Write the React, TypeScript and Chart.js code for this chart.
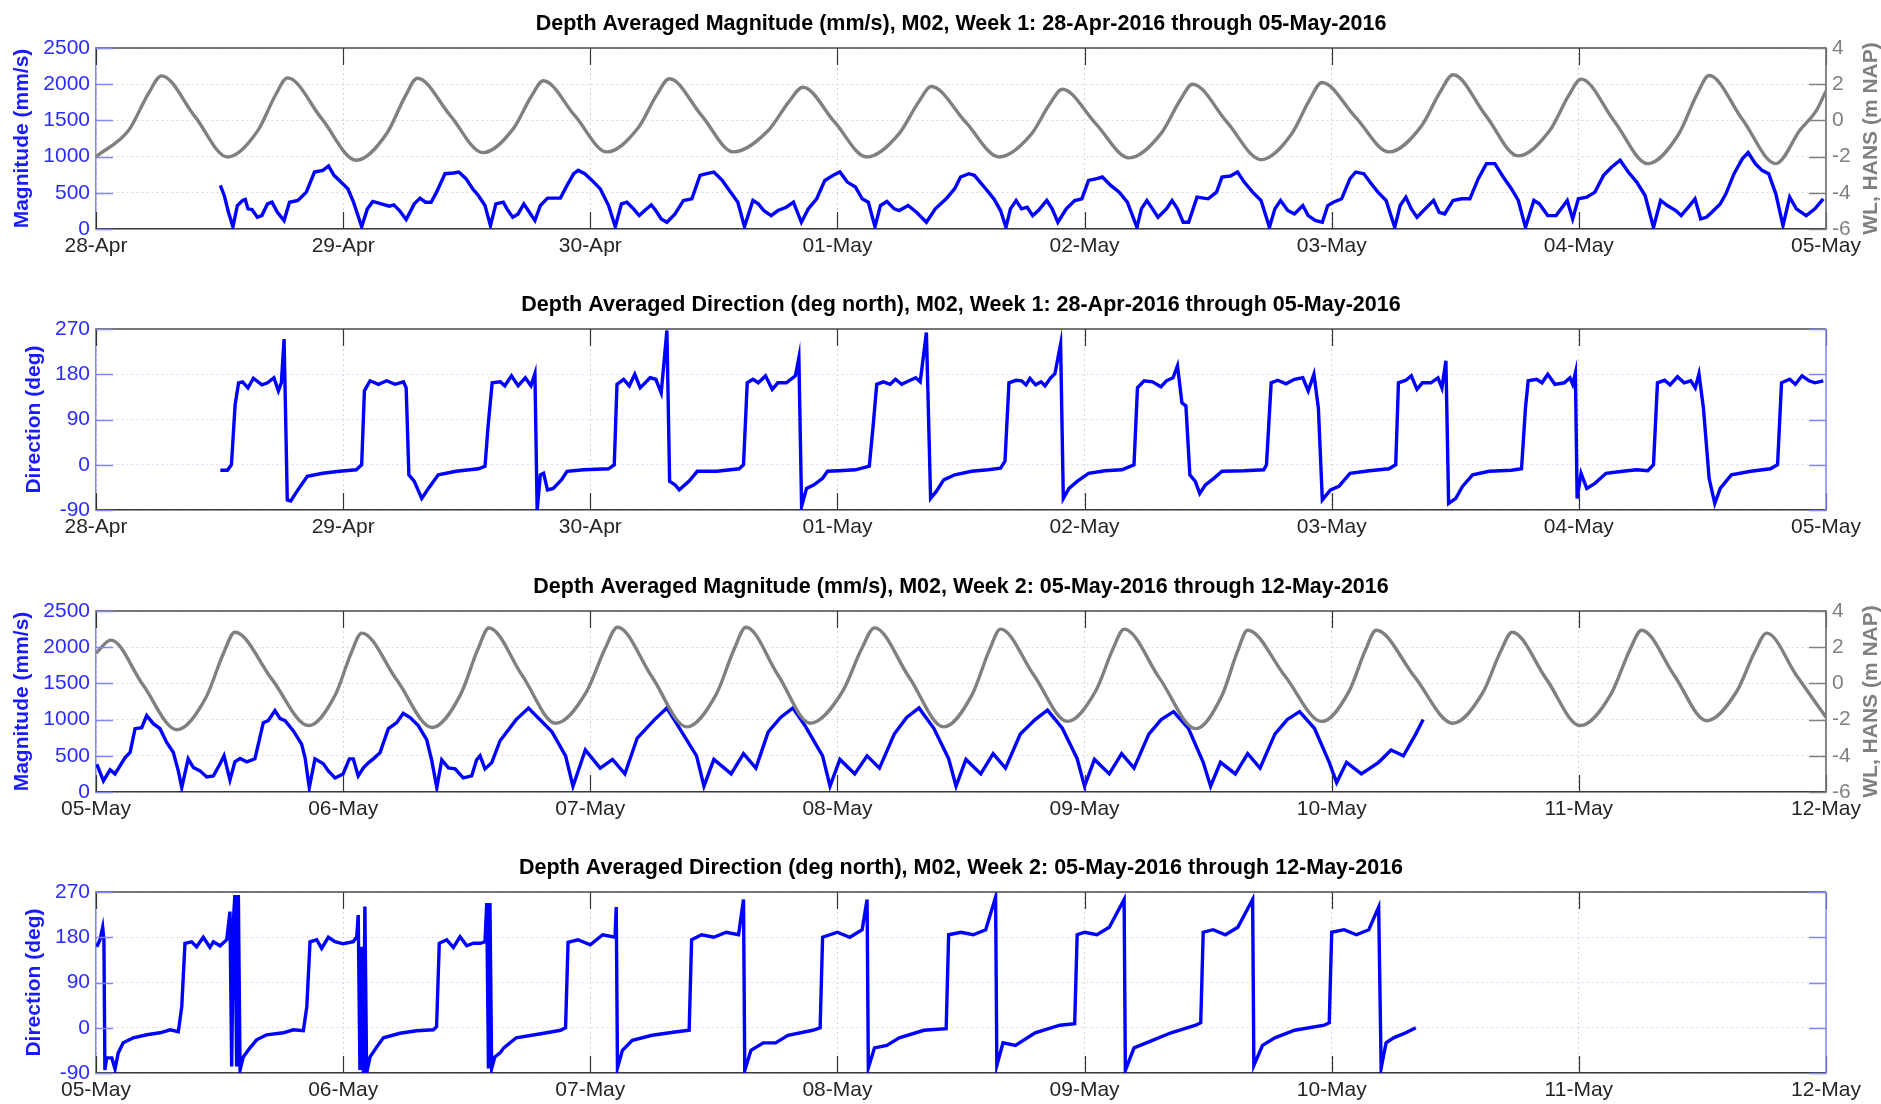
import { useEffect, useRef } from 'react';
import { Chart, registerables } from 'chart.js';
Chart.register(...registerables);

const FONT = "'Liberation Sans', Arial, Helvetica, sans-serif";
Chart.defaults.font.family = FONT;

// ---------- tick labels ----------
const W1_DAYS = ['28-Apr', '29-Apr', '30-Apr', '01-May', '02-May', '03-May', '04-May', '05-May'];
const W2_DAYS = ['05-May', '06-May', '07-May', '08-May', '09-May', '10-May', '11-May', '12-May'];
const MAG_TICKS = [0, 500, 1000, 1500, 2000, 2500];
const WL_TICKS = [-6, -4, -2, 0, 2, 4];
const DIR_TICKS = [-90, 0, 90, 180, 270];

const TITLE_W1_MAG = 'Depth Averaged Magnitude (mm/s), M02, Week 1: 28-Apr-2016 through 05-May-2016';
const TITLE_W1_DIR = 'Depth Averaged Direction (deg north), M02, Week 1: 28-Apr-2016 through 05-May-2016';
const TITLE_W2_MAG = 'Depth Averaged Magnitude (mm/s), M02, Week 2: 05-May-2016 through 12-May-2016';
const TITLE_W2_DIR = 'Depth Averaged Direction (deg north), M02, Week 2: 05-May-2016 through 12-May-2016';

// ---------- series: [days since week start, value] ----------
const W1_MAG: [number, number][] = [[0.503,602],[0.519,463],[0.536,231],[0.554,32],[0.572,324],[0.593,394],[0.604,407],[0.615,278],[0.631,268],[0.653,162],[0.671,185],[0.694,347],[0.712,370],[0.734,231],[0.761,116],[0.783,370],[0.817,394],[0.851,509],[0.884,787],[0.918,810],[0.941,870],[0.963,741],[0.985,671],[1.019,556],[1.042,370],[1.075,32],[1.098,278],[1.12,380],[1.154,347],[1.187,315],[1.205,333],[1.228,255],[1.255,130],[1.288,347],[1.311,426],[1.333,370],[1.356,370],[1.378,509],[1.412,764],[1.446,773],[1.468,787],[1.497,695],[1.524,556],[1.547,463],[1.574,324],[1.596,46],[1.618,347],[1.648,370],[1.663,278],[1.686,162],[1.708,208],[1.731,347],[1.749,255],[1.776,116],[1.798,324],[1.827,426],[1.879,426],[1.906,602],[1.933,764],[1.951,810],[1.978,764],[2.007,671],[2.04,556],[2.074,324],[2.101,32],[2.126,347],[2.148,370],[2.175,278],[2.198,185],[2.22,255],[2.247,333],[2.265,255],[2.287,139],[2.31,93],[2.343,208],[2.377,394],[2.411,417],[2.444,741],[2.471,764],[2.5,787],[2.534,671],[2.568,509],[2.597,370],[2.624,32],[2.658,394],[2.68,347],[2.702,255],[2.732,185],[2.759,255],[2.793,301],[2.822,370],[2.854,93],[2.882,278],[2.916,417],[2.949,671],[2.983,741],[3.01,787],[3.04,648],[3.073,579],[3.1,417],[3.125,370],[3.152,32],[3.174,324],[3.2,380],[3.23,278],[3.25,255],[3.286,324],[3.32,231],[3.36,93],[3.396,278],[3.44,417],[3.475,560],[3.498,718],[3.532,764],[3.554,741],[3.577,648],[3.6,556],[3.633,417],[3.66,255],[3.682,23],[3.7,278],[3.723,394],[3.745,278],[3.768,301],[3.79,185],[3.813,255],[3.847,394],[3.869,278],[3.892,93],[3.926,278],[3.96,394],[3.989,417],[4.016,671],[4.05,695],[4.072,718],[4.106,602],[4.14,509],[4.173,370],[4.212,23],[4.23,278],[4.252,394],[4.275,278],[4.297,162],[4.331,278],[4.354,394],[4.376,278],[4.399,93],[4.421,93],[4.455,440],[4.5,417],[4.534,509],[4.556,718],[4.59,732],[4.619,787],[4.646,648],[4.68,509],[4.714,394],[4.748,23],[4.77,278],[4.793,394],[4.822,255],[4.849,208],[4.883,324],[4.905,185],[4.935,116],[4.962,93],[4.984,324],[5.007,370],[5.04,417],[5.074,695],[5.097,787],[5.13,764],[5.16,625],[5.187,509],[5.22,394],[5.255,23],[5.277,324],[5.3,440],[5.322,278],[5.345,162],[5.378,278],[5.412,394],[5.435,231],[5.457,208],[5.491,394],[5.525,417],[5.559,417],[5.593,695],[5.626,903],[5.66,903],[5.694,718],[5.727,556],[5.755,394],[5.784,23],[5.818,394],[5.84,347],[5.874,185],[5.908,185],[5.953,394],[5.975,139],[5.998,417],[6.032,440],[6.065,509],[6.1,741],[6.133,857],[6.167,949],[6.2,787],[6.234,648],[6.268,463],[6.302,23],[6.331,394],[6.358,324],[6.392,255],[6.414,185],[6.448,324],[6.47,417],[6.493,139],[6.516,162],[6.538,231],[6.572,347],[6.595,486],[6.628,764],[6.662,972],[6.685,1056],[6.714,903],[6.741,810],[6.768,764],[6.797,486],[6.826,46],[6.853,440],[6.88,278],[6.92,185],[6.955,278],[6.989,417]];

const W1_WL: [number, number][] = [[0,-2.0],[0.133,-0.53],[0.212,1.48],[0.265,2.46],[0.40,0.22],[0.532,-2.02],[0.654,-0.58],[0.726,1.39],[0.775,2.35],[0.914,0.08],[1.053,-2.2],[1.177,-0.71],[1.251,1.33],[1.30,2.33],[1.433,0.28],[1.565,-1.78],[1.688,-0.47],[1.761,1.32],[1.81,2.19],[1.939,0.23],[2.067,-1.74],[2.194,-0.41],[2.269,1.41],[2.32,2.30],[2.45,0.28],[2.579,-1.74],[2.72,-0.56],[2.804,1.04],[2.86,1.83],[2.989,-0.1],[3.118,-2.02],[3.249,-0.74],[3.328,1.01],[3.38,1.87],[3.518,-0.08],[3.655,-2.02],[3.783,-0.79],[3.859,0.9],[3.91,1.72],[4.045,-0.18],[4.18,-2.07],[4.309,-0.73],[4.386,1.1],[4.437,2.0],[4.576,-0.09],[4.714,-2.17],[4.837,-0.76],[4.911,1.15],[4.96,2.09],[5.096,0.18],[5.232,-1.74],[5.362,-0.33],[5.439,1.58],[5.491,2.52],[5.623,0.28],[5.754,-1.96],[5.882,-0.56],[5.958,1.35],[6.009,2.28],[6.144,-0.06],[6.279,-2.39],[6.403,-0.78],[6.477,1.41],[6.527,2.48],[6.662,0.05],[6.797,-2.39],[6.895,-0.53],[6.962,0.57],[7.0,1.63]];

const W1_DIR: [number, number][] = [[0.503,-11],[0.532,-11],[0.548,0],[0.563,120],[0.577,163],[0.593,165],[0.615,153],[0.637,172],[0.671,159],[0.694,163],[0.72,173],[0.738,147],[0.75,163],[0.761,250],[0.774,-70],[0.788,-72],[0.817,-50],[0.855,-23],[0.918,-17],[0.985,-13],[1.053,-10],[1.075,0],[1.086,147],[1.109,167],[1.143,160],[1.176,167],[1.21,160],[1.244,165],[1.255,153],[1.266,-20],[1.288,-33],[1.318,-67],[1.345,-47],[1.385,-20],[1.457,-13],[1.547,-8],[1.574,-3],[1.587,80],[1.603,163],[1.636,165],[1.654,157],[1.681,177],[1.708,157],[1.737,173],[1.76,157],[1.776,181],[1.785,-90],[1.798,-20],[1.811,-17],[1.827,-50],[1.85,-47],[1.883,-30],[1.906,-13],[1.973,-10],[2.074,-8],[2.097,0],[2.108,160],[2.135,170],[2.158,157],[2.18,180],[2.202,153],[2.242,173],[2.265,170],[2.287,143],[2.31,267],[2.321,-33],[2.343,-40],[2.36,-50],[2.399,-33],[2.433,-13],[2.512,-13],[2.602,-8],[2.62,0],[2.635,163],[2.658,170],[2.68,163],[2.709,177],[2.736,150],[2.759,163],[2.793,163],[2.83,177],[2.844,213],[2.855,-83],[2.875,-47],[2.905,-40],[2.94,-27],[2.96,-13],[3.006,-12],[3.073,-10],[3.129,-3],[3.145,80],[3.159,160],[3.186,165],[3.213,160],[3.235,170],[3.26,160],[3.29,167],[3.317,173],[3.335,165],[3.36,263],[3.377,-67],[3.4,-53],[3.43,-30],[3.475,-20],[3.543,-13],[3.61,-10],[3.66,-7],[3.678,7],[3.694,163],[3.723,168],[3.745,167],[3.763,159],[3.779,172],[3.802,159],[3.824,165],[3.84,157],[3.863,173],[3.88,181],[3.903,240],[3.914,-67],[3.937,-47],[3.97,-33],[4.016,-17],[4.083,-12],[4.151,-10],[4.2,0],[4.214,153],[4.241,167],[4.275,165],[4.309,155],[4.331,167],[4.358,173],[4.376,197],[4.394,123],[4.41,117],[4.426,-20],[4.448,-33],[4.466,-57],[4.489,-40],[4.523,-27],[4.556,-13],[4.646,-12],[4.725,-10],[4.736,0],[4.755,163],[4.782,168],[4.815,161],[4.849,170],[4.883,173],[4.905,147],[4.928,180],[4.946,113],[4.962,-70],[4.995,-50],[5.029,-43],[5.074,-17],[5.153,-12],[5.232,-8],[5.259,0],[5.27,163],[5.3,168],[5.322,177],[5.345,150],[5.367,163],[5.401,163],[5.43,173],[5.446,153],[5.462,207],[5.473,-77],[5.502,-67],[5.529,-43],[5.57,-20],[5.637,-13],[5.727,-11],[5.768,-8],[5.784,113],[5.795,167],[5.829,170],[5.851,163],[5.874,180],[5.903,160],[5.941,163],[5.964,173],[5.975,160],[5.986,183],[5.993,-67],[6.009,-17],[6.032,-47],[6.065,-37],[6.11,-17],[6.178,-13],[6.234,-10],[6.279,-12],[6.302,0],[6.318,163],[6.347,168],[6.369,159],[6.399,175],[6.426,163],[6.453,167],[6.471,153],[6.486,181],[6.504,113],[6.527,-27],[6.55,-77],[6.572,-47],[6.617,-20],[6.696,-13],[6.775,-8],[6.804,0],[6.82,163],[6.853,170],[6.876,160],[6.903,177],[6.932,167],[6.955,163],[6.989,167]];

const W2_MAG: [number, number][] = [[0.003,385],[0.03,153],[0.057,306],[0.077,250],[0.117,472],[0.138,546],[0.158,875],[0.185,889],[0.205,1056],[0.232,944],[0.259,875],[0.286,685],[0.313,546],[0.333,292],[0.347,60],[0.373,458],[0.394,338],[0.421,292],[0.448,208],[0.475,222],[0.502,389],[0.518,500],[0.542,167],[0.562,417],[0.583,463],[0.61,417],[0.643,458],[0.677,958],[0.697,986],[0.724,1125],[0.745,1014],[0.765,986],[0.798,847],[0.832,662],[0.846,472],[0.863,60],[0.886,458],[0.92,389],[0.94,292],[0.967,194],[1.0,250],[1.025,458],[1.041,458],[1.061,222],[1.082,333],[1.102,403],[1.122,458],[1.149,542],[1.183,875],[1.217,958],[1.243,1088],[1.271,1028],[1.304,917],[1.338,722],[1.358,444],[1.379,60],[1.399,444],[1.426,333],[1.453,319],[1.486,194],[1.52,222],[1.54,444],[1.554,500],[1.574,319],[1.601,403],[1.635,708],[1.7,1000],[1.75,1160],[1.845,830],[1.9,500],[1.93,80],[1.98,580],[2.04,330],[2.09,450],[2.14,250],[2.19,745],[2.26,1000],[2.31,1160],[2.35,940],[2.43,500],[2.46,80],[2.5,450],[2.57,250],[2.62,530],[2.67,330],[2.72,830],[2.77,1030],[2.82,1160],[2.87,910],[2.94,500],[2.97,80],[3.01,450],[3.07,250],[3.12,500],[3.17,330],[3.23,800],[3.28,1030],[3.33,1160],[3.39,880],[3.45,460],[3.48,80],[3.52,450],[3.58,250],[3.63,530],[3.68,330],[3.74,800],[3.8,1000],[3.85,1130],[3.91,880],[3.97,460],[4.0,80],[4.04,450],[4.1,250],[4.15,530],[4.2,330],[4.26,800],[4.31,1000],[4.36,1110],[4.42,880],[4.48,410],[4.51,80],[4.55,410],[4.61,250],[4.66,530],[4.71,330],[4.77,800],[4.82,1000],[4.87,1110],[4.93,880],[4.99,410],[5.02,130],[5.06,410],[5.12,250],[5.19,410],[5.24,580],[5.29,500],[5.34,800],[5.37,1000]];

const W2_WL: [number, number][] = [[0,1.67],[0.06,2.39],[0.19,-0.08],[0.327,-2.56],[0.445,-0.78],[0.515,1.64],[0.562,2.83],[0.711,0.25],[0.86,-2.33],[0.968,-0.64],[1.032,1.66],[1.075,2.78],[1.218,0.17],[1.36,-2.44],[1.475,-0.62],[1.544,1.85],[1.59,3.06],[1.725,0.43],[1.86,-2.2],[1.985,-0.45],[2.06,1.93],[2.11,3.1],[2.25,0.35],[2.39,-2.4],[2.51,-0.59],[2.582,1.89],[2.63,3.1],[2.76,0.45],[2.89,-2.2],[3.02,-0.46],[3.098,1.91],[3.15,3.07],[3.29,0.34],[3.43,-2.4],[3.545,-0.62],[3.614,1.81],[3.66,3.0],[3.795,0.45],[3.93,-2.1],[4.045,-0.42],[4.114,1.88],[4.16,3.0],[4.305,0.25],[4.45,-2.5],[4.555,-0.7],[4.618,1.74],[4.66,2.94],[4.81,0.42],[4.96,-2.1],[5.07,-0.44],[5.136,1.83],[5.18,2.94],[5.335,0.37],[5.49,-2.2],[5.61,-0.54],[5.682,1.72],[5.73,2.83],[5.868,0.25],[6.005,-2.33],[6.13,-0.59],[6.204,1.78],[6.254,2.94],[6.386,0.44],[6.517,-2.06],[6.638,-0.46],[6.711,1.72],[6.76,2.78],[6.88,0.45],[7.0,-1.87]];

const W2_DIR: [number, number][] = [[0.003,161],[0.016,175],[0.027,200],[0.032,175],[0.036,-84],[0.043,-60],[0.064,-60],[0.077,-82],[0.09,-50],[0.11,-30],[0.151,-20],[0.205,-14],[0.259,-10],[0.3,-4],[0.333,-8],[0.347,42],[0.36,168],[0.387,171],[0.407,161],[0.434,180],[0.461,160],[0.475,171],[0.502,163],[0.529,175],[0.542,231],[0.549,-77],[0.556,214],[0.562,264],[0.569,-77],[0.576,264],[0.583,-84],[0.596,-58],[0.623,-40],[0.65,-24],[0.69,-14],[0.758,-10],[0.798,-4],[0.839,-6],[0.853,42],[0.866,171],[0.893,175],[0.913,158],[0.94,180],[0.967,171],[1.0,167],[1.041,171],[1.055,181],[1.061,224],[1.068,-84],[1.075,161],[1.082,-90],[1.088,241],[1.095,-90],[1.109,-58],[1.136,-38],[1.163,-20],[1.23,-11],[1.297,-6],[1.365,-4],[1.378,2],[1.389,168],[1.419,175],[1.446,160],[1.473,181],[1.5,163],[1.527,168],[1.554,168],[1.574,171],[1.581,248],[1.588,-81],[1.594,248],[1.601,-81],[1.614,-58],[1.635,-50],[1.65,-40],[1.7,-20],[1.8,-12],[1.88,-5],[1.9,0],[1.91,170],[1.95,175],[2.0,165],[2.05,185],[2.1,180],[2.105,240],[2.11,-80],[2.13,-45],[2.17,-25],[2.25,-15],[2.35,-8],[2.4,-5],[2.41,175],[2.45,185],[2.5,180],[2.55,190],[2.6,185],[2.62,255],[2.625,-85],[2.65,-45],[2.7,-30],[2.75,-30],[2.8,-15],[2.9,-5],[2.93,0],[2.94,180],[3.0,190],[3.05,180],[3.1,195],[3.12,255],[3.125,-80],[3.15,-40],[3.2,-35],[3.25,-20],[3.35,-5],[3.44,-2],[3.45,185],[3.5,190],[3.55,185],[3.6,195],[3.64,260],[3.645,-75],[3.67,-30],[3.72,-35],[3.8,-10],[3.9,5],[3.96,8],[3.97,185],[4.0,190],[4.05,185],[4.1,200],[4.16,255],[4.165,-85],[4.2,-40],[4.25,-30],[4.35,-10],[4.45,5],[4.47,10],[4.48,190],[4.52,195],[4.57,185],[4.62,200],[4.68,255],[4.685,-75],[4.72,-35],[4.77,-20],[4.85,-5],[4.97,5],[4.99,10],[5.0,190],[5.05,195],[5.1,185],[5.15,195],[5.19,240],[5.2,-80],[5.22,-30],[5.25,-20],[5.3,-10],[5.34,0]];

// ---------- styling ----------
const BLUE_LINE = '#0000ff';
const GRAY_LINE = '#808080';
const BLUE_TEXT = '#2b2bff';
const BLUE_AXIS = '#8484ff';
const DARK = '#262626';
const PLOT_LEFT = 96;
const RIGHT_W = 55;
const TOP_H = 48;
const PLOT_H = 181;
const TICK_LEN = 17;
const TITLE_SIZE = 21.5;
const TICK_SIZE = 21;

const toXY = (arr: [number, number][]) => arr.map(([x, y]) => ({ x, y }));

function framePlugin(rightColor: string, rightTitle: string | null) {
  return {
    id: 'matlabFrame',
    afterDraw(chart: any) {
      const { ctx, chartArea } = chart;
      const { left, right, top, bottom } = chartArea;
      const xs = chart.scales.x;
      const ys = chart.scales.y;
      ctx.save();
      ctx.strokeStyle = '#333333';
      ctx.lineWidth = 1.2;
      xs.ticks.forEach((t: any) => {
        const px = Math.round(xs.getPixelForValue(t.value)) + 0.5;
        ctx.beginPath();
        ctx.moveTo(px, bottom); ctx.lineTo(px, bottom - TICK_LEN);
        ctx.moveTo(px, top); ctx.lineTo(px, top + TICK_LEN);
        ctx.stroke();
      });
      ctx.strokeStyle = '#4a4a4a';
      ctx.lineWidth = 1.5;
      ctx.beginPath(); ctx.moveTo(left, top); ctx.lineTo(right, top); ctx.stroke();
      ctx.strokeStyle = BLUE_AXIS;
      ctx.lineWidth = 1.5;
      ys.ticks.forEach((t: any) => {
        const py = Math.round(ys.getPixelForValue(t.value)) + 0.5;
        ctx.beginPath(); ctx.moveTo(left, py); ctx.lineTo(left + TICK_LEN, py); ctx.stroke();
      });
      ctx.strokeStyle = rightColor;
      ctx.beginPath(); ctx.moveTo(right, top); ctx.lineTo(right, bottom); ctx.stroke();
      const rs = chart.scales.y2 || ys;
      rs.ticks.forEach((t: any) => {
        const py = Math.round(rs.getPixelForValue(t.value)) + 0.5;
        ctx.beginPath(); ctx.moveTo(right, py); ctx.lineTo(right - TICK_LEN, py); ctx.stroke();
      });
      if (rightTitle) {
        ctx.translate(1871, (top + bottom) / 2);
        ctx.rotate(-Math.PI / 2);
        ctx.font = `bold 21px ${FONT}`;
        ctx.fillStyle = GRAY_LINE;
        ctx.textAlign = 'center';
        ctx.textBaseline = 'middle';
        ctx.fillText(rightTitle, 0, 0);
      }
      ctx.restore();
    },
  };
}

function xScale(days: string[], xh: number) {
  return {
    type: 'linear',
    min: 0,
    max: 7,
    ticks: {
      stepSize: 1,
      autoSkip: false,
      maxRotation: 0,
      color: DARK,
      font: { size: TICK_SIZE },
      padding: 5,
      callback: (v: number) => days[Math.round(v)] ?? '',
    },
    grid: { color: '#d4d4d4', lineWidth: 1, drawTicks: false },
    border: { display: true, color: '#3a3a3a', width: 1.5, dash: [2, 3] },
    afterFit: (s: any) => { s.height = xh; },
  };
}

function titleOpts(text: string) {
  const pad = (TOP_H - TITLE_SIZE * 1.2) / 2;
  return {
    display: true,
    fullSize: false,
    text,
    color: '#000000',
    font: { size: TITLE_SIZE, weight: 'bold' },
    padding: { top: pad, bottom: pad },
  };
}

const plain = (v: number) => String(v);

function magConfig(title: string, days: string[], mag: [number, number][], wl: [number, number][], xh: number) {
  return {
    type: 'line',
    data: {
      datasets: [
        { label: 'WL, HANS (m NAP)', data: toXY(wl), yAxisID: 'y2', borderColor: GRAY_LINE, borderWidth: 3.4, pointRadius: 0, cubicInterpolationMode: 'monotone', fill: false },
        { label: 'Magnitude (mm/s)', data: toXY(mag), yAxisID: 'y', borderColor: BLUE_LINE, borderWidth: 3.4, pointRadius: 0, tension: 0, fill: false },
      ],
    },
    options: {
      animation: false,
      responsive: false,
      layout: { padding: 0 },
      plugins: { legend: { display: false }, tooltip: { enabled: false }, title: titleOpts(title) },
      scales: {
        x: xScale(days, xh),
        y: {
          position: 'left',
          min: MAG_TICKS[0],
          max: MAG_TICKS[MAG_TICKS.length - 1],
          afterBuildTicks: (s: any) => { s.ticks = MAG_TICKS.map((v) => ({ value: v })); },
          ticks: { color: BLUE_TEXT, font: { size: TICK_SIZE }, padding: 6, callback: plain },
          grid: { color: '#d8d8d8', drawTicks: false },
          border: { color: BLUE_AXIS, width: 1.5, dash: [2, 3] },
          title: { display: true, text: 'Magnitude (mm/s)', color: '#1a1aff', font: { size: 21, weight: 'bold' }, padding: { top: 10, bottom: 0 } },
          afterFit: (s: any) => { s.width = PLOT_LEFT; },
        },
        y2: {
          position: 'right',
          min: WL_TICKS[0],
          max: WL_TICKS[WL_TICKS.length - 1],
          afterBuildTicks: (s: any) => { s.ticks = WL_TICKS.map((v) => ({ value: v })); },
          ticks: { color: '#808080', font: { size: TICK_SIZE }, padding: 6, callback: plain },
          grid: { display: false, drawTicks: false },
          border: { color: '#808080', width: 1.5 },
          afterFit: (s: any) => { s.width = RIGHT_W; },
        },
      },
    },
    plugins: [framePlugin('#808080', 'WL, HANS (m NAP)')],
  };
}

function dirConfig(title: string, days: string[], dir: [number, number][], xh: number) {
  return {
    type: 'line',
    data: {
      datasets: [
        { label: 'Direction (deg)', data: toXY(dir), yAxisID: 'y', borderColor: BLUE_LINE, borderWidth: 3.4, pointRadius: 0, tension: 0, fill: false },
      ],
    },
    options: {
      animation: false,
      responsive: false,
      layout: { padding: { left: 0, right: RIGHT_W, top: 0, bottom: 0 } },
      plugins: { legend: { display: false }, tooltip: { enabled: false }, title: titleOpts(title) },
      scales: {
        x: xScale(days, xh),
        y: {
          position: 'left',
          min: DIR_TICKS[0],
          max: DIR_TICKS[DIR_TICKS.length - 1],
          afterBuildTicks: (s: any) => { s.ticks = DIR_TICKS.map((v) => ({ value: v })); },
          ticks: { color: BLUE_TEXT, font: { size: TICK_SIZE }, padding: 6, callback: plain },
          grid: { color: '#dadaff', drawTicks: false },
          border: { color: BLUE_AXIS, width: 1.5, dash: [2, 3] },
          title: { display: true, text: 'Direction (deg)', color: '#1a1aff', font: { size: 21, weight: 'bold' }, padding: { top: 22, bottom: 0 } },
          afterFit: (s: any) => { s.width = PLOT_LEFT; },
        },
      },
    },
    plugins: [framePlugin(BLUE_AXIS, null)],
  };
}

function Panel({ top, height, make }: { top: number; height: number; make: () => any }) {
  const ref = useRef<HTMLCanvasElement>(null);
  useEffect(() => {
    if (!ref.current) return;
    const chart = new Chart(ref.current, make());
    return () => chart.destroy();
  }, []);
  return (
    <div style={{ position: 'absolute', left: 0, top, width: 1881, height }}>
      <canvas ref={ref} width={1881} height={height} style={{ display: 'block', width: 1881, height }} />
    </div>
  );
}

export default function App() {
  const xh = (h: number) => h - TOP_H - PLOT_H;
  return (
    <div style={{ position: 'absolute', left: 0, top: 0, width: 1881, height: 1104, overflow: 'hidden', background: '#ffffff' }}>
      <Panel top={0} height={281} make={() => magConfig(TITLE_W1_MAG, W1_DAYS, W1_MAG, W1_WL, xh(281))} />
      <Panel top={281} height={281} make={() => dirConfig(TITLE_W1_DIR, W1_DAYS, W1_DIR, xh(281))} />
      <Panel top={563} height={281} make={() => magConfig(TITLE_W2_MAG, W2_DAYS, W2_MAG, W2_WL, xh(281))} />
      <Panel top={844} height={260} make={() => dirConfig(TITLE_W2_DIR, W2_DAYS, W2_DIR, xh(260))} />
    </div>
  );
}
